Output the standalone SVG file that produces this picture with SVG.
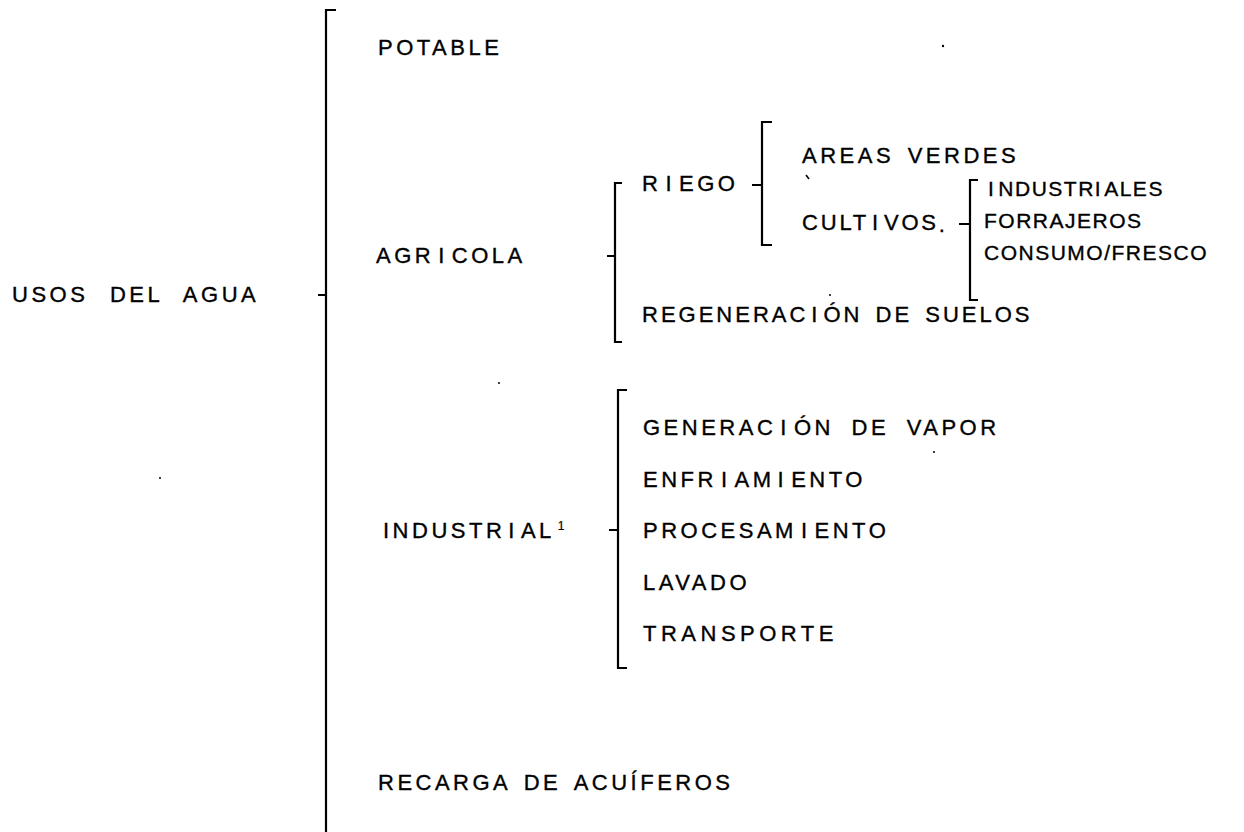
<svg xmlns="http://www.w3.org/2000/svg" width="1244" height="832" viewBox="0 0 1244 832">
<style>
text{font-family:"Liberation Sans","DejaVu Sans",sans-serif;font-size:22px;fill:#000;stroke:#000;stroke-width:0.35;letter-spacing:3.5px;word-spacing:4px}
.s{font-size:21px;letter-spacing:1.5px}
.w{word-spacing:12px}
.b{fill:none;stroke:#000;stroke-width:2.2}
.sup{font-size:12px;letter-spacing:0;stroke-width:0.2}
</style>
<rect width="1244" height="832" fill="#fff"/>
<g id="connectors">
<path class="b" d="M336,10 H326 V832 M318,295 H326"/>
<path class="b" d="M622,183 H615 V342 H622 M607,256 H615"/>
<path class="b" d="M772,122 H762 V245 H772 M752,185 H762"/>
<path class="b" d="M978,180 H970 V300 H978 M959,224 H970"/>
<path class="b" d="M627,390 H618 V668 H627 M609,530 H618"/>
</g>
<g id="root"><text class="w" x="12" y="302">USOS DEL AGUA</text></g>
<g id="potable"><text x="378" y="55">POTABLE</text></g>
<g id="agricola"><text x="376" y="263">AGR<tspan dx="4">I</tspan><tspan dx="4">COLA</tspan></text></g>
<g id="riego"><text x="642" y="191">R<tspan dx="4">I</tspan><tspan dx="4">EGO</tspan></text></g>
<g id="areas"><text x="802" y="163">AREAS VERDES</text><path d="M806,175 L809,179" fill="none" stroke="#000" stroke-width="1.5"/></g>
<g id="cultivos"><text x="802" y="230" style="letter-spacing:2.8px">CULT<tspan dx="3">I</tspan><tspan dx="3">VOS</tspan><tspan dy="2">.</tspan></text></g>
<g id="industriales"><text class="s" x="984" y="196"><tspan dx="4">I</tspan><tspan dx="3">NDUSTR</tspan><tspan dx="0">I</tspan><tspan dx="2">ALES</tspan></text></g>
<g id="forrajeros"><text class="s" x="984" y="228">FORRAJEROS</text></g>
<g id="consumo"><text class="s" x="984" y="260">CONSUMO/FRESCO</text></g>
<g id="regeneracion"><text x="642" y="322" style="letter-spacing:3px">REGENERAC<tspan dx="3">I</tspan><tspan dx="3">ÓN DE SUELOS</tspan></text></g>
<g id="industrial"><text x="383" y="538">INDUSTR<tspan dx="3">I</tspan><tspan dx="3">AL</tspan><tspan class="sup" dx="3" dy="-8">1</tspan></text></g>
<g id="vapor"><text x="643" y="435" style="word-spacing:8px">GENERAC<tspan dx="4">I</tspan><tspan dx="4">ÓN DE VAPOR</tspan></text></g>
<g id="enfriamiento"><text x="643" y="487">ENFR<tspan dx="4">I</tspan><tspan dx="4">AM</tspan><tspan dx="3">I</tspan><tspan dx="4">ENTO</tspan></text></g>
<g id="procesamiento"><text x="643" y="538">PROCESAM<tspan dx="4">I</tspan><tspan dx="4">ENTO</tspan></text></g>
<g id="lavado"><text x="643" y="590">LAVADO</text></g>
<g id="transporte"><text x="643" y="641" style="letter-spacing:4.5px">TRANSPORTE</text></g>
<g id="recarga"><text x="378" y="790">RECARGA DE ACUÍFEROS</text></g>
<g id="specks" fill="#000">
<circle cx="943" cy="46" r="1.2"/>
<circle cx="830" cy="295" r="1"/>
<circle cx="499" cy="383" r="1"/>
<circle cx="934" cy="452" r="1"/>
<circle cx="160" cy="478" r="1"/>
</g>
</svg>
